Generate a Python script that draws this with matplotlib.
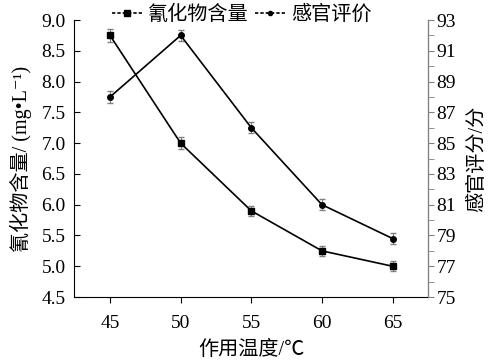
import matplotlib.pyplot as plt
from matplotlib.lines import Line2D
from matplotlib.ticker import MultipleLocator, FixedLocator

plt.rcParams['font.family'] = ['Liberation Serif', 'Noto Sans CJK SC', 'DejaVu Sans']

temps = [45, 50, 55, 60, 65]
cyanide = [8.75, 7.0, 5.9, 5.25, 5.0]
cyanide_err = [0.1, 0.1, 0.08, 0.08, 0.08]
sensory = [88, 92, 86, 81, 78.8]
sensory_err = [0.4, 0.35, 0.35, 0.35, 0.35]

fig = plt.figure(figsize=(4.93, 3.64), dpi=100)
ax = fig.add_axes([0.150, 0.184, 0.718, 0.761])
ax2 = ax.twinx()

ax.errorbar(temps, cyanide, yerr=cyanide_err, color='black', marker='s', markersize=4,
            linewidth=1.2, ecolor='gray', elinewidth=0.8, capsize=2.5)
ax2.errorbar(temps, sensory, yerr=sensory_err, color='black', marker='o', markersize=4,
             linewidth=1.2, ecolor='gray', elinewidth=0.8, capsize=2.5)

ax.set_xlim(42.45, 67.5)
ax.set_ylim(4.5, 9.0)
ax2.set_ylim(75, 93)
ax.set_xticks(temps)
ax.yaxis.set_major_locator(MultipleLocator(0.5))
ax2.yaxis.set_major_locator(FixedLocator(list(range(75, 94, 2))))
ax2.yaxis.set_minor_locator(FixedLocator(list(range(76, 93, 2))))

for a in (ax, ax2):
    a.spines['top'].set_visible(False)
ax2.spines['right'].set_color('gray')
ax2.spines['left'].set_visible(False)
ax2.spines['bottom'].set_visible(False)

ax.tick_params(axis='y', direction='in', length=4, labelsize=14, pad=6)
ax.tick_params(axis='x', direction='out', length=4, labelsize=14, pad=9)
ax2.tick_params(axis='y', which='major', direction='out', length=4, labelsize=14, color='gray', pad=2)
ax2.tick_params(axis='y', which='minor', direction='out', length=4, color='gray')

ax.set_xlabel('作用温度/℃', fontsize=14.5, labelpad=6)
ax.set_ylabel('氰化物含量/ (mg•L⁻¹)', fontsize=14.5, labelpad=7)
ax2.set_ylabel('感官评分/分', fontsize=14.5, labelpad=9)

h1 = Line2D([], [], color='black', linestyle=(0, (2, 1.2)), linewidth=1.2, marker='s', markersize=4)
h2 = Line2D([], [], color='black', linestyle=(0, (2, 1.2)), linewidth=1.2, marker='o', markersize=3)
fig.legend(handles=[h1, h2], labels=['氰化物含量', '感官评价'], loc='upper center',
           bbox_to_anchor=(0.49, 1.035), ncol=2, frameon=False, fontsize=14.5,
           handlelength=1.5, handletextpad=0.3, columnspacing=0.3)

fig.savefig('out.png', dpi=100)
